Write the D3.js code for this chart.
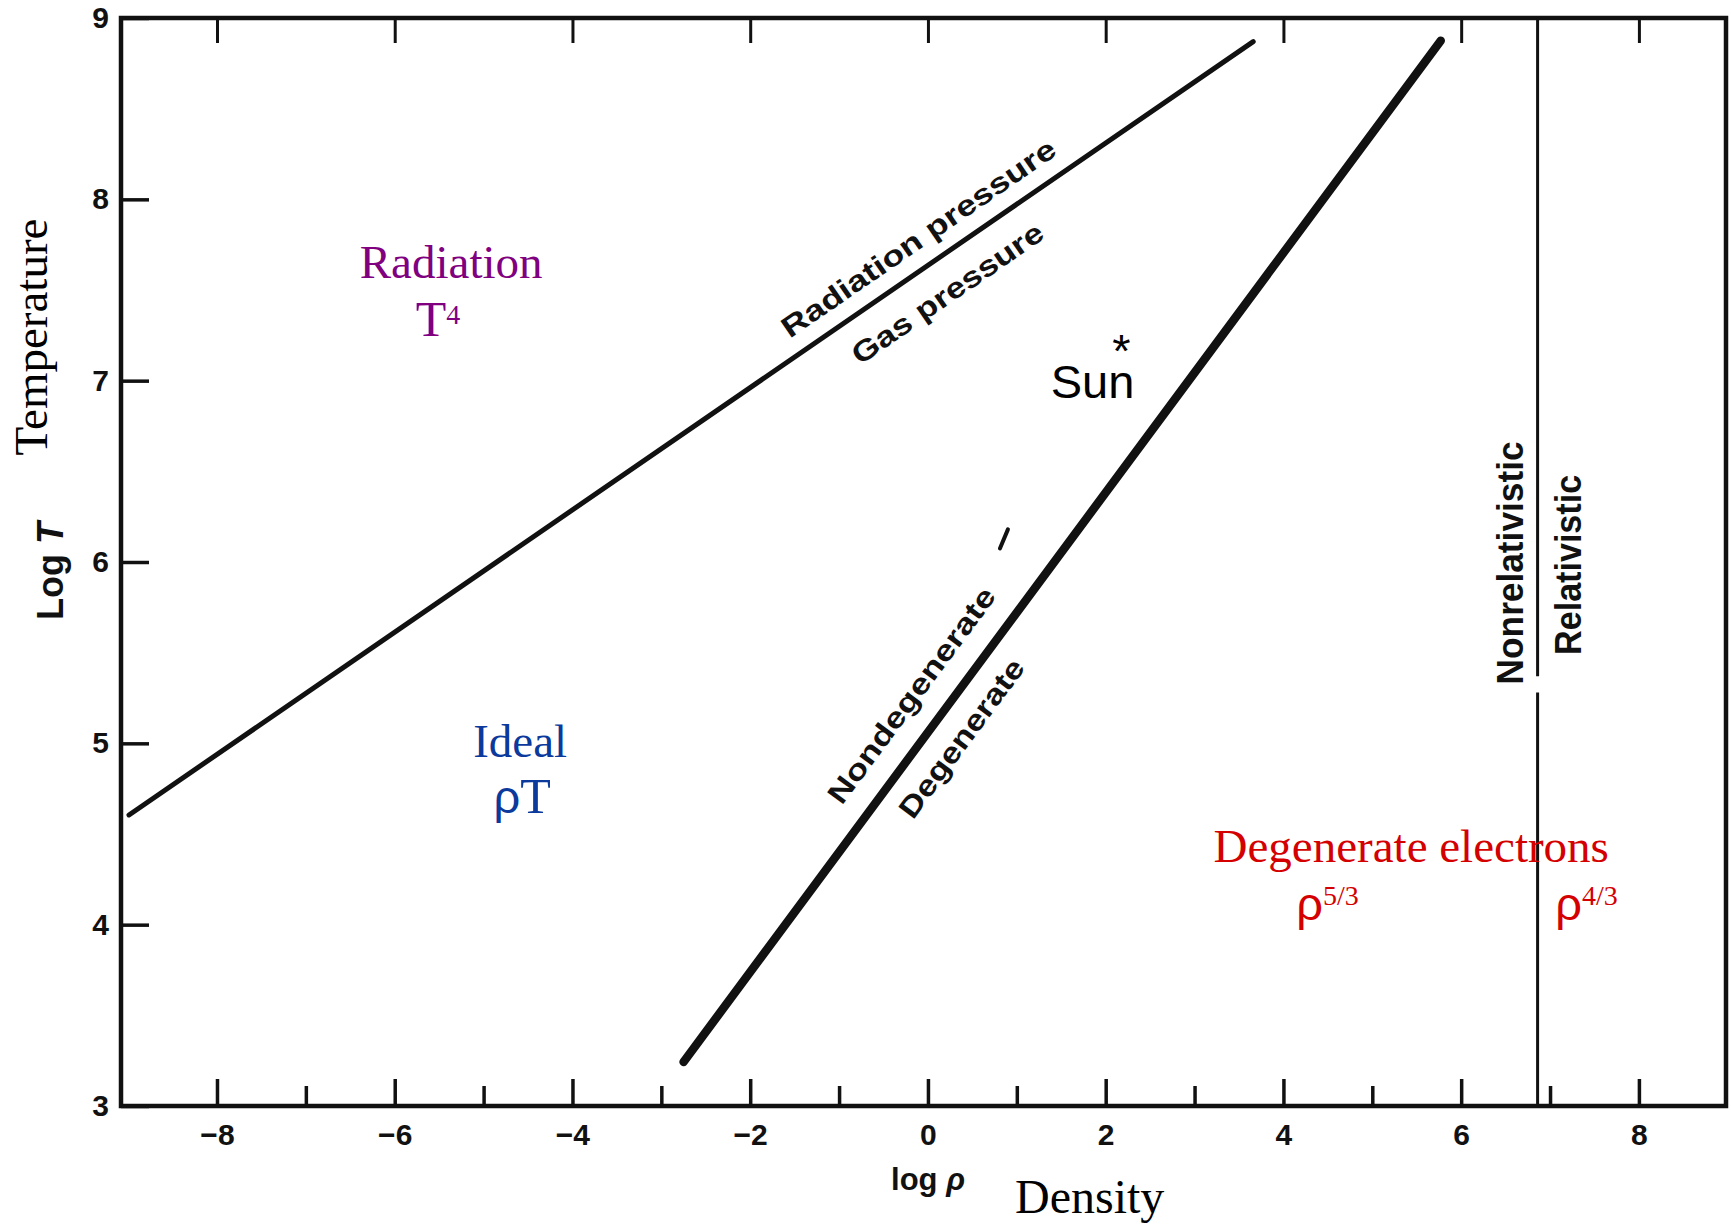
<!DOCTYPE html>
<html><head><meta charset="utf-8">
<script src="https://cdn.jsdelivr.net/npm/d3@7"></script>
<style>body{margin:0;background:#fff}svg{display:block}</style>
</head><body>
<svg id="c" width="1731" height="1226"></svg>
<script>
// ---- data ----
const xMajorTicks = [-8, -6, -4, -2, 0, 2, 4, 6, 8];
const xMinorTicks = [-7, -5, -3, -1, 1, 3, 5, 7];
const yTicks = [3, 4, 5, 6, 7, 8, 9];
const xDomain = [-9.08, 8.98];
const yDomain = [3, 9];
// log rho, log T
const radiationGasBoundary = [[-8.99, 4.605], [3.66, 8.87]];
const degeneracyBoundary = [[-2.75, 3.243], [5.77, 8.875]];
const relativisticRho = 6.86;
const relativisticGap = [5.28, 5.37];
const strayMark = [[0.81, 6.075], [0.90, 6.18]];

// ---- setup ----
const SANS = "'Liberation Sans', Arial, Helvetica, sans-serif";
const SERIF = "'Liberation Serif', 'Times New Roman', Times, serif";
const INK = "#111";
const svg = d3.select("#c");
const x = d3.scaleLinear().domain(xDomain).range([121, 1726]);
const y = d3.scaleLinear().domain(yDomain).range([1106, 18]);
const line = d3.line().x(d => x(d[0])).y(d => y(d[1]));

// frame
svg.append("rect")
  .attr("x", x(xDomain[0])).attr("y", y(yDomain[1]))
  .attr("width", x(xDomain[1]) - x(xDomain[0]))
  .attr("height", y(yDomain[0]) - y(yDomain[1]))
  .attr("fill", "none").attr("stroke", INK).attr("stroke-width", 4.5);

function styleAxis(g, sw) {
  g.select(".domain").remove();
  g.selectAll("line").attr("stroke", INK).attr("stroke-width", sw);
  g.selectAll("text").attr("font-family", SANS).attr("font-weight", "bold")
    .attr("font-size", 30).attr("fill", INK);
}

// bottom axis
svg.append("g").attr("transform", `translate(0,${y(3)})`)
  .call(d3.axisBottom(x).tickValues(xMajorTicks).tickSize(-27).tickPadding(18).tickFormat(d3.format("d")))
  .call(g => styleAxis(g, 3.5));
svg.append("g").attr("transform", `translate(0,${y(3)})`)
  .call(d3.axisBottom(x).tickValues(xMinorTicks).tickSize(-20).tickFormat(""))
  .call(g => styleAxis(g, 3.5));
// top axis
svg.append("g").attr("transform", `translate(0,${y(9)})`)
  .call(d3.axisTop(x).tickValues(xMajorTicks).tickSize(-25).tickFormat(""))
  .call(g => styleAxis(g, 3));
// left axis
svg.append("g").attr("transform", `translate(${x(xDomain[0])},0)`)
  .call(d3.axisLeft(y).tickValues(yTicks).tickSize(-28).tickPadding(12).tickFormat(d3.format("d")))
  .call(g => styleAxis(g, 3.5));

// boundary lines
svg.append("path").datum(radiationGasBoundary).attr("d", line)
  .attr("fill", "none").attr("stroke", INK).attr("stroke-width", 5).attr("stroke-linecap", "round");
svg.append("path").datum(degeneracyBoundary).attr("d", line)
  .attr("fill", "none").attr("stroke", INK).attr("stroke-width", 8.5).attr("stroke-linecap", "round");
svg.append("path").datum([[relativisticRho, yDomain[1]], [relativisticRho, relativisticGap[1]]]).attr("d", line)
  .attr("fill", "none").attr("stroke", INK).attr("stroke-width", 3);
svg.append("path").datum([[relativisticRho, relativisticGap[0]], [relativisticRho, yDomain[0]]]).attr("d", line)
  .attr("fill", "none").attr("stroke", INK).attr("stroke-width", 3);
svg.append("path").datum(strayMark).attr("d", line)
  .attr("fill", "none").attr("stroke", INK).attr("stroke-width", 4).attr("stroke-linecap", "round");

// angles of the boundaries on screen
function screenAngle(seg) {
  return Math.atan2(y(seg[1][1]) - y(seg[0][1]), x(seg[1][0]) - x(seg[0][0])) * 180 / Math.PI;
}
const angRad = screenAngle(radiationGasBoundary);
const angDeg = screenAngle(degeneracyBoundary);

// rotated boundary labels
const boundaryLabels = [
  { text: "Radiation pressure", rho: -0.11, t: 7.788, angle: angRad, size: 29, len: 326 },
  { text: "Gas pressure", rho: 0.216, t: 7.484, angle: angRad, size: 29, len: 226 },
  { text: "Nondegenerate", rho: -0.19, t: 5.267, angle: angDeg, size: 29, len: 261 },
  { text: "Degenerate", rho: 0.374, t: 5.03, angle: angDeg, size: 29, len: 190 },
  { text: "Nonrelativistic", rho: 6.55, t: 5.995, angle: -90, size: 36, len: 243 },
  { text: "Relativistic", rho: 7.205, t: 5.984, angle: -90, size: 36, len: 180 }
];
boundaryLabels.forEach(d => {
  svg.append("text")
    .attr("transform", `translate(${x(d.rho)},${y(d.t)}) rotate(${d.angle})`)
    .attr("text-anchor", "middle").attr("dy", "0.36em")
    .attr("font-family", SANS).attr("font-weight", "bold").attr("font-size", d.size)
    .attr("textLength", d.len).attr("lengthAdjust", "spacingAndGlyphs")
    .attr("fill", INK).text(d.text);
});

// colored region labels
const PURPLE = "#800080", BLUE = "#0b3a9c", RED = "#d40000";
function label(rho, t, anchor) {
  return svg.append("text").attr("x", x(rho)).attr("y", y(t)).attr("text-anchor", anchor);
}
label(-5.365, 7.567, "middle").attr("font-family", SERIF).attr("font-size", 47).attr("fill", PURPLE).text("Radiation");
{
  const t = label(-5.513, 7.247, "middle").attr("font-family", SERIF).attr("fill", PURPLE);
  t.append("tspan").attr("font-size", 50).text("T");
  t.append("tspan").attr("font-size", 28).attr("dy", -12).text("4");
}
label(-4.589, 4.925, "middle").attr("font-family", SERIF).attr("font-size", 47).attr("fill", BLUE).text("Ideal");
{
  const t = label(-4.567, 4.616, "middle").attr("fill", BLUE);
  t.append("tspan").attr("font-family", SANS).attr("font-size", 47).text("ρ");
  t.append("tspan").attr("font-family", SERIF).attr("font-size", 50).text("T");
}
// Sun with its asterisk marker (one text element)
{
  const t = label(1.381, 6.905, "start").attr("font-family", SANS).attr("font-size", 47).attr("fill", "#000");
  t.append("tspan").text("Sun");
  t.append("tspan").attr("dx", -22).attr("dy", -31).text("*");
}
label(5.438, 4.346, "middle").attr("font-family", SERIF).attr("font-size", 47).attr("fill", RED).text("Degenerate electrons");
[[4.144, "5/3"], [7.059, "4/3"]].forEach(([rho, ex]) => {
  const t = label(rho, 4.026, "start").attr("fill", RED);
  t.append("tspan").attr("font-family", SANS).attr("font-size", 47).text("ρ");
  t.append("tspan").attr("font-family", SERIF).attr("font-size", 28).attr("dy", -15).text(ex);
});

// axis titles
{
  const t = svg.append("text").attr("transform", "translate(63,571) rotate(-90)")
    .attr("text-anchor", "middle").attr("font-family", SANS).attr("font-weight", "bold")
    .attr("font-size", 36).attr("fill", INK);
  t.append("tspan").text("Log ");
  t.append("tspan").attr("font-style", "italic").text("T");
}
svg.append("text").attr("transform", "translate(47,337) rotate(-90)")
  .attr("text-anchor", "middle").attr("font-family", SERIF).attr("font-size", 47)
  .attr("fill", "#000").text("Temperature");
{
  const t = svg.append("text").attr("x", 928).attr("y", 1190)
    .attr("text-anchor", "middle").attr("font-family", SANS).attr("font-weight", "bold")
    .attr("font-size", 31).attr("fill", INK);
  t.append("tspan").text("log ");
  t.append("tspan").attr("font-style", "italic").text("ρ");
}
svg.append("text").attr("x", 1015).attr("y", 1213)
  .attr("font-family", SERIF).attr("font-size", 48).attr("fill", "#000").text("Density");
</script>
</body></html>
